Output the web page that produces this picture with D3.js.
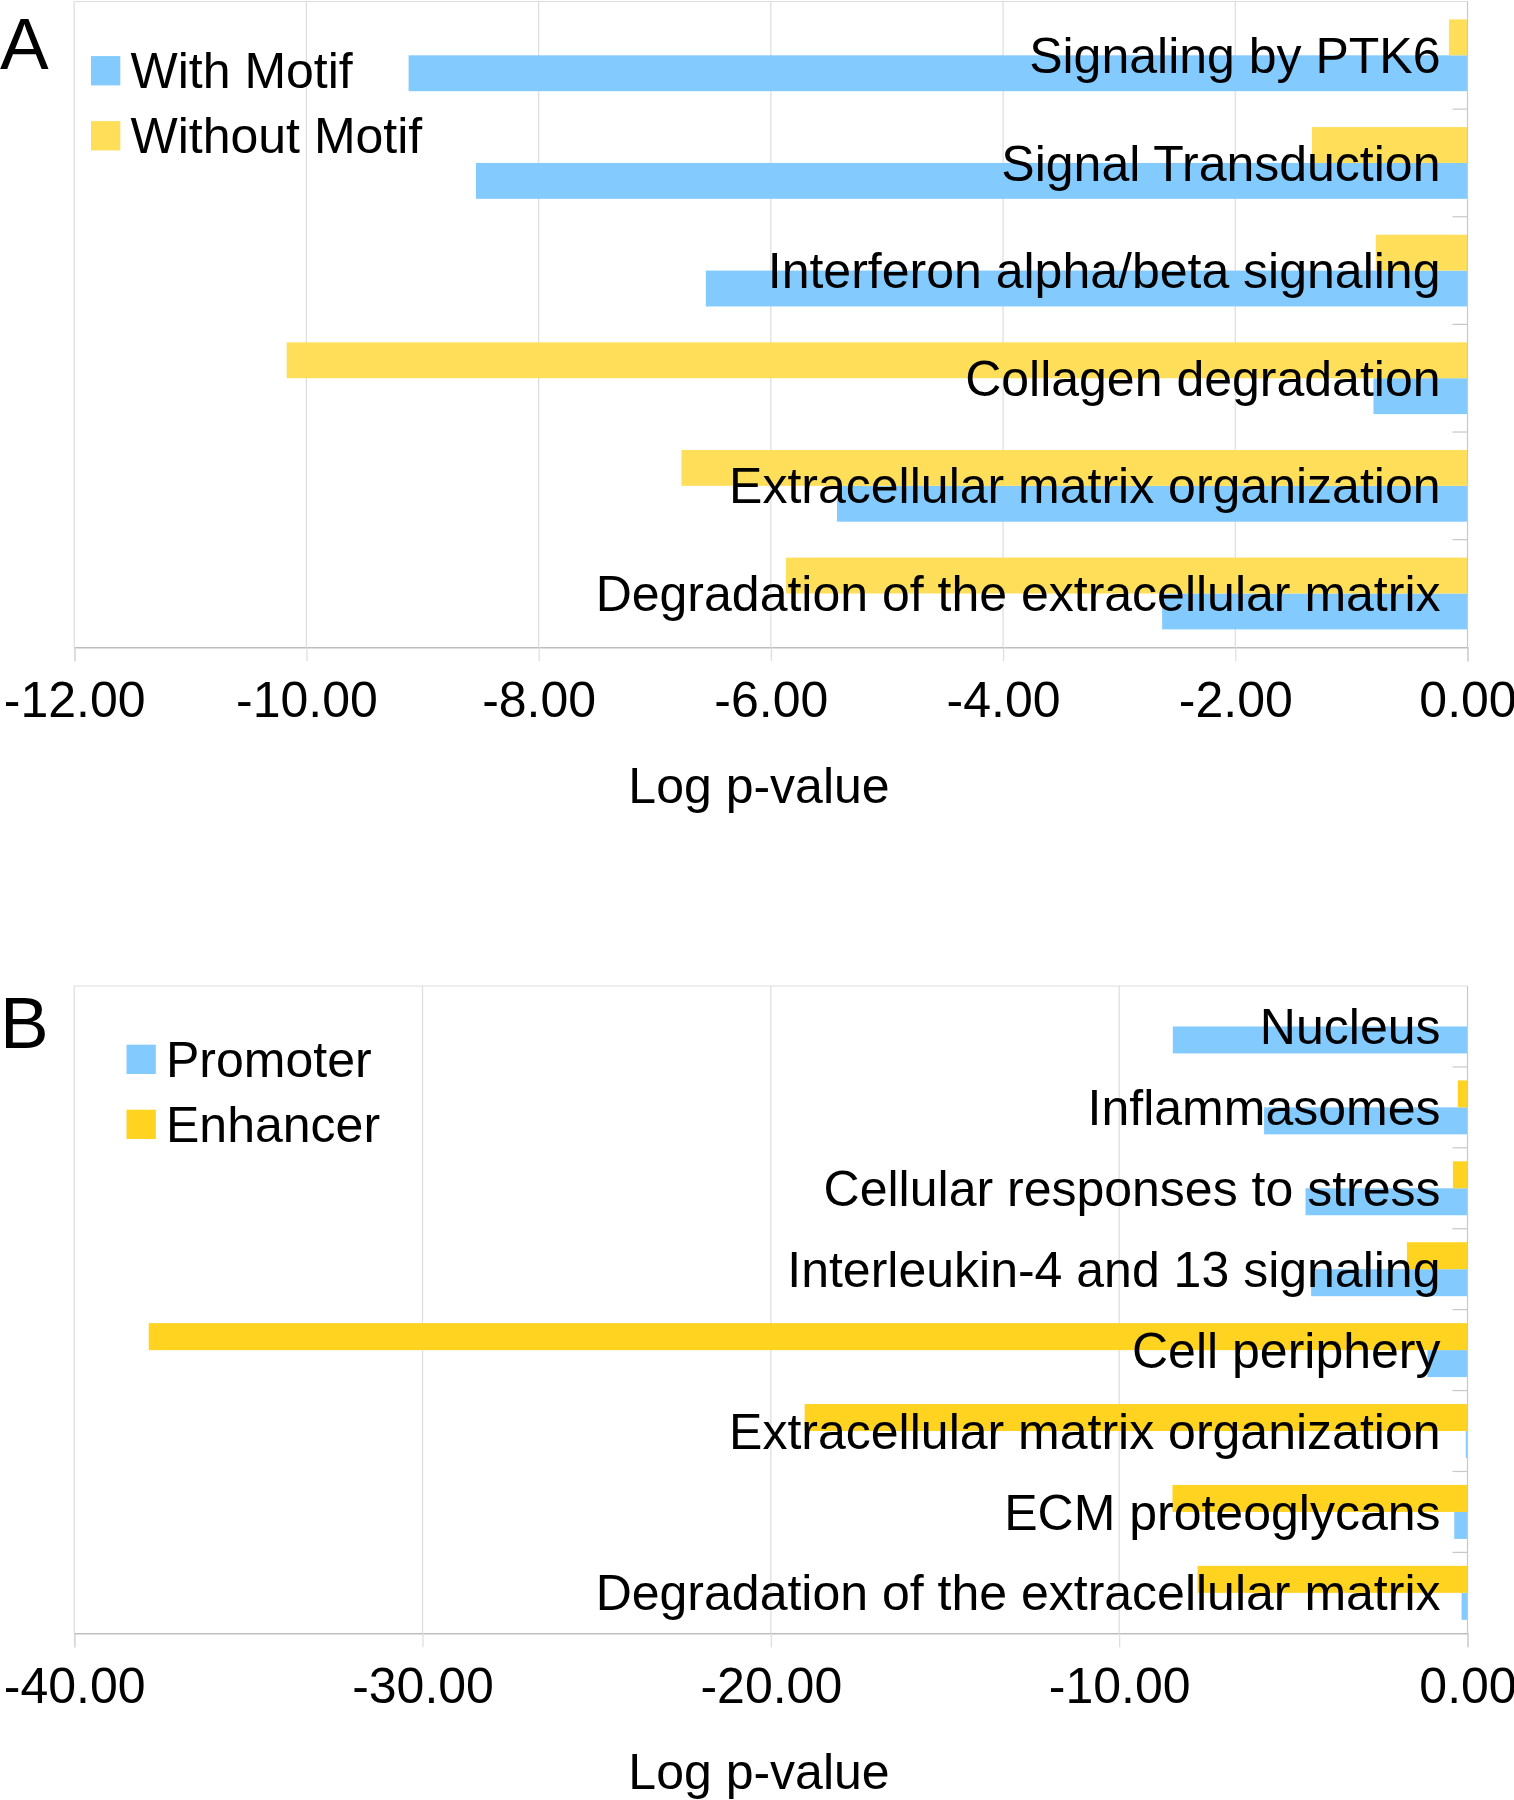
<!DOCTYPE html>
<html>
<head>
<meta charset="utf-8">
<script src="https://cdn.jsdelivr.net/npm/d3@7"></script>
<style>
  body { margin: 0; background: #fff; }
  svg { display: block; font-family: "Liberation Sans", Arial, sans-serif; }
</style>
</head>
<body>
<svg id="chart" width="1514" height="1800"></svg>
<script>
// ---------- Data ----------
const categoriesA = [
  "Signaling by PTK6",
  "Signal Transduction",
  "Interferon alpha/beta signaling",
  "Collagen degradation",
  "Extracellular matrix organization",
  "Degradation of the extracellular matrix"
];
const withMotif    = [-9.12, -8.54, -6.56, -0.81, -5.43, -2.63];
const withoutMotif = [-0.16, -1.34, -0.79, -10.17, -6.77, -5.87];
const seriesNamesA = ["With Motif", "Without Motif"];
const ticksA = [-12, -10, -8, -6, -4, -2, 0];
const tickLabelsA = ["-12.00", "-10.00", "-8.00", "-6.00", "-4.00", "-2.00", "0.00"];

const categoriesB = [
  "Nucleus",
  "Inflammasomes",
  "Cellular responses to stress",
  "Interleukin-4 and 13 signaling",
  "Cell periphery",
  "Extracellular matrix organization",
  "ECM proteoglycans",
  "Degradation of the extracellular matrix"
];
const promoter = [-8.46, -5.84, -4.65, -4.49, -1.15, -0.05, -0.38, -0.17];
const enhancer = [0, -0.28, -0.42, -1.74, -37.86, -19.03, -8.47, -7.75];
const seriesNamesB = ["Promoter", "Enhancer"];
const ticksB = [-40, -30, -20, -10, 0];
const tickLabelsB = ["-40.00", "-30.00", "-20.00", "-10.00", "0.00"];

const axisTitle = "Log p-value";

// ---------- Drawing ----------
const svg = d3.select("#chart");
const FS = 50;

function drawPanel(o) {
  const g = svg.append("g");
  const x = d3.scaleLinear().domain(o.domain).range([o.left, o.right]);
  const y = d3.scaleBand().domain(o.categories).range([o.top, o.bottom]).padding(0);
  // bars: second series on top, first series below
  const sub = d3.scaleBand().domain([1, 0]).range([0, y.bandwidth()])
    .paddingInner(0).paddingOuter(0.5);

  // gridlines
  g.append("g").selectAll("line").data(o.ticks.filter(t => t !== 0)).join("line")
    .attr("x1", d => x(d)).attr("x2", d => x(d))
    .attr("y1", o.top).attr("y2", o.bottom)
    .attr("stroke", "#dddddd").attr("stroke-width", 1.2);
  // top border
  g.append("line").attr("x1", o.left).attr("x2", o.right)
    .attr("y1", o.top).attr("y2", o.top)
    .attr("stroke", "#dddddd").attr("stroke-width", 1.2);

  // bars
  const rows = o.categories.map((c, i) => ({ c, vals: [o.s0[i], o.s1[i]] }));
  const rg = g.append("g").selectAll("g").data(rows).join("g")
    .attr("transform", d => `translate(0,${y(d.c)})`);
  rg.selectAll("rect").data(d => d.vals.map((v, k) => ({ v, k }))).join("rect")
    .attr("x", d => x(Math.min(0, d.v)))
    .attr("width", d => Math.abs(x(d.v) - x(0)))
    .attr("y", d => sub(d.k))
    .attr("height", sub.bandwidth())
    .attr("fill", d => o.colors[d.k]);

  // y axis line at zero + inward ticks at category boundaries
  g.append("line").attr("x1", x(0)).attr("x2", x(0))
    .attr("y1", o.top).attr("y2", o.bottom)
    .attr("stroke", "#c8c8c8").attr("stroke-width", 1.2);
  g.append("g").selectAll("line").data(o.categories.slice(1)).join("line")
    .attr("x1", x(0) - 15).attr("x2", x(0))
    .attr("y1", d => y(d)).attr("y2", d => y(d))
    .attr("stroke", "#c8c8c8").attr("stroke-width", 1.2);

  // x axis
  const ax = d3.axisBottom(x).tickValues(o.ticks)
    .tickFormat((d, i) => o.tickLabels[i])
    .tickSize(14).tickPadding(20);
  const axg = g.append("g").attr("transform", `translate(0,${o.bottom})`).call(ax);
  axg.select(".domain").attr("stroke", "#bdbdbd").attr("stroke-width", 1.5);
  axg.selectAll(".tick line").attr("stroke", "#dddddd").attr("stroke-width", 1.2);
  axg.selectAll(".tick text").attr("fill", "#000")
    .style("font-size", FS + "px").style("font-family", "'Liberation Sans', Arial, sans-serif");

  // axis title
  g.append("text").attr("x", 759).attr("y", o.bottom + 155.5)
    .attr("text-anchor", "middle").style("font-size", FS + "px").text(axisTitle);

  // category labels
  g.append("g").selectAll("text").data(o.categories).join("text")
    .attr("x", 1440.5)
    .attr("y", d => y(d) + y.bandwidth() / 2 + 0.352 * FS)
    .attr("text-anchor", "end").style("font-size", FS + "px")
    .attr("fill", "#000").text(d => d);

  // legend
  const lg = g.append("g").selectAll("g").data(o.seriesNames).join("g")
    .attr("transform", (d, i) => `translate(${o.legX},${o.legY + i * 65})`);
  lg.append("rect").attr("x", 0).attr("y", -14.6).attr("width", 29.3).attr("height", 29.3)
    .attr("fill", (d, i) => o.colors[i]);
  lg.append("text").attr("x", 39.5).attr("y", 17.6)
    .style("font-size", FS + "px").attr("fill", "#000").text(d => d);

  // panel letter
  svg.append("text").attr("x", 0).attr("y", o.letterY)
    .style("font-size", "73px").attr("fill", "#000").text(o.letter);
}

drawPanel({
  categories: categoriesA, s0: withMotif, s1: withoutMotif,
  seriesNames: seriesNamesA,
  colors: ["#83CAFF", "#FFDE59"],
  domain: [-12, 0], ticks: ticksA, tickLabels: tickLabelsA,
  left: 74.2, right: 1467.5, top: 1.5, bottom: 647.3,
  legX: 91, legY: 70.7, letter: "A", letterY: 69
});

drawPanel({
  categories: categoriesB, s0: promoter, s1: enhancer,
  seriesNames: seriesNamesB,
  colors: ["#83CAFF", "#FFD320"],
  domain: [-40, 0], ticks: ticksB, tickLabels: tickLabelsB,
  left: 74.2, right: 1467.5, top: 986, bottom: 1633.3,
  legX: 126.5, legY: 1059.3, letter: "B", letterY: 1048.3
});
</script>
</body>
</html>
